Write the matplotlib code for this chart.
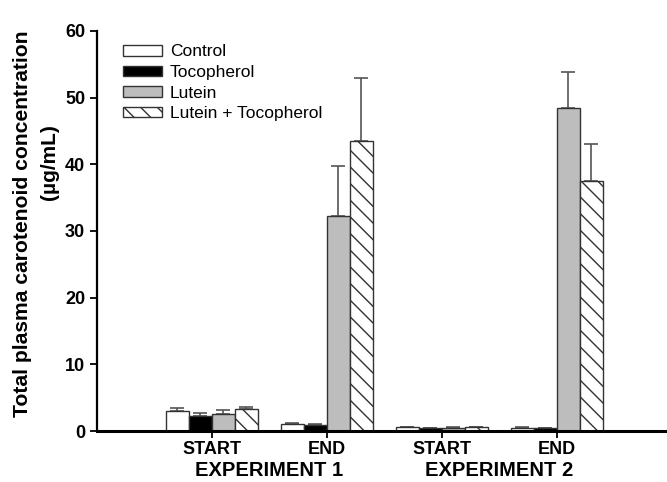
import numpy as np
import matplotlib
matplotlib.use("Agg")
import matplotlib.pyplot as plt
from matplotlib.patches import Patch

plt.rcParams["font.family"] = ["Liberation Sans", "DejaVu Sans"]
plt.rcParams["hatch.linewidth"] = 1.0

timepoints = ["START", "END", "START", "END"]
experiments = ["EXPERIMENT 1", "EXPERIMENT 2"]
groups = ["Control", "Tocopherol", "Lutein", "Lutein + Tocopherol"]

# mean and SE per group, one value per timepoint
control = [3.05, 1.1, 0.6, 0.5]
control_se = [0.45, 0.1, 0.05, 0.05]
tocopherol = [2.3, 0.9, 0.45, 0.4]
tocopherol_se = [0.35, 0.1, 0.05, 0.05]
lutein = [2.55, 32.2, 0.5, 48.5]
lutein_se = [0.6, 7.5, 0.05, 5.4]
lutein_toco = [3.25, 43.5, 0.55, 37.5]
lutein_toco_se = [0.4, 9.5, 0.05, 5.6]

means = [control, tocopherol, lutein, lutein_toco]
errors = [control_se, tocopherol_se, lutein_se, lutein_toco_se]
faces = ["white", "black", "#bdbdbd", "white"]
hatches = [None, None, None, "\\\\"]
edge = "#333333"

fig = plt.figure(figsize=(6.67, 4.82), dpi=100)
ax = fig.add_axes([0.1454, 0.1058, 0.862, 0.83])

x = np.arange(len(timepoints))
width = 0.2
for i, (m, e) in enumerate(zip(means, errors)):
    pos = x + (i - 1.5) * width
    ax.bar(pos, m, width, color=faces[i], edgecolor=edge, linewidth=1.0,
           hatch=hatches[i], zorder=2)
    ax.errorbar(pos, m, yerr=[np.zeros(len(m)), e], fmt="none",
                ecolor="#555555", elinewidth=1.2, capsize=5, capthick=1.2,
                zorder=1)

ax.set_xlim(-1, 4)
ax.set_ylim(0, 60)
ax.set_yticks(np.arange(0, 61, 10))
ax.set_xticks(x)
ax.set_xticklabels(timepoints, fontsize=13, fontweight="bold")
for lbl in ax.get_yticklabels():
    lbl.set_fontsize(13)
    lbl.set_fontweight("bold")

ax.spines["top"].set_visible(False)
ax.spines["right"].set_visible(False)
ax.spines["left"].set_linewidth(1.6)
ax.spines["bottom"].set_linewidth(2.2)
ax.tick_params(axis="both", direction="out", length=5, width=1.3)
ax.tick_params(axis="x", pad=2)

for j, name in enumerate(experiments):
    ax.text(2 * j + 0.5, -0.074, name, transform=ax.get_xaxis_transform(),
            ha="center", va="top", fontsize=14.5, fontweight="bold")

# y axis title: main line plus the unit line set higher up
fig.text(0.033, 0.535, "Total plasma carotenoid concentration", rotation=90,
         ha="center", va="center", fontsize=15.2, fontweight="bold")
fig.text(0.0735, 0.664, "(µg/mL)", rotation=90,
         ha="center", va="center", fontsize=15, fontweight="bold")

handles = [Patch(facecolor=faces[i], edgecolor=edge, hatch=hatches[i],
                 linewidth=1.0, label=groups[i]) for i in range(4)]
ax.legend(handles=handles, loc="upper left", bbox_to_anchor=(0.031, 0.988),
          frameon=False, fontsize=12.5, borderpad=0, handlelength=2.2,
          handleheight=0.55, labelspacing=0.32, handletextpad=0.46)

fig.savefig("out.png", dpi=100)
